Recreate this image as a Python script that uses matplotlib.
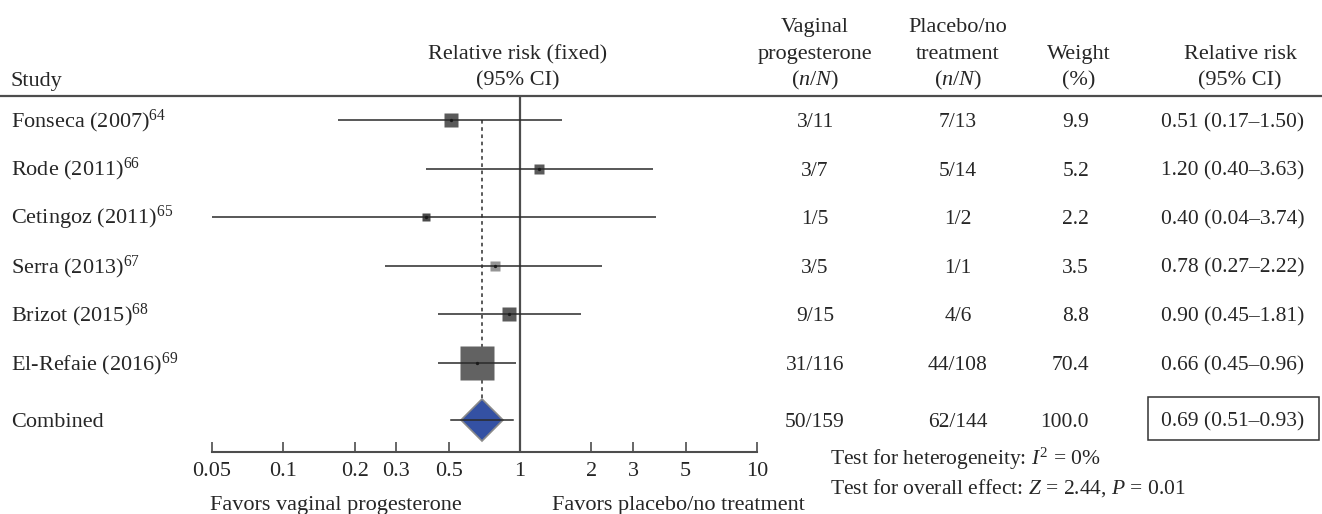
import numpy as np
import matplotlib
matplotlib.use("Agg")
import matplotlib.pyplot as plt
import matplotlib.transforms as mtransforms
from matplotlib.lines import Line2D
from matplotlib.patches import Rectangle

plt.rcParams['font.family'] = ['Liberation Serif', 'DejaVu Serif']
plt.rcParams['mathtext.fontset'] = 'custom'
plt.rcParams['mathtext.rm'] = 'Liberation Serif'
plt.rcParams['mathtext.it'] = 'Liberation Serif:italic'
plt.rcParams['mathtext.bf'] = 'Liberation Serif:bold'

# ---------------- data ----------------
studies = ['Fonseca (2007)', 'Rode (2011)', 'Cetingoz (2011)', 'Serra (2013)',
           'Brizot (2015)', 'El-Refaie (2016)']
refs = ['64', '66', '65', '67', '68', '69']
rr = [0.51, 1.20, 0.40, 0.78, 0.90, 0.66]
rr_lo = [0.17, 0.40, 0.04, 0.27, 0.45, 0.45]
rr_hi = [1.50, 3.63, 3.74, 2.22, 1.81, 0.96]
vag_nN = ['3/11', '3/7', '1/5', '3/5', '9/15', '31/116']
plc_nN = ['7/13', '5/14', '1/2', '1/1', '4/6', '44/108']
weights = [9.9, 5.2, 2.2, 3.5, 8.8, 70.4]

comb_label = 'Combined'
comb_rr, comb_lo, comb_hi = 0.69, 0.51, 0.93
comb_vag, comb_plc, comb_w = '50/159', '62/144', 100.0

xticks = [0.05, 0.1, 0.2, 0.3, 0.5, 1, 2, 3, 5, 10]
xtick_labels = ['0.05', '0.1', '0.2', '0.3', '0.5', '1', '2', '3', '5', '10']

het_text = r'Test for heterogeneity: $I^2$ = 0%'
eff_text = r'Test for overall effect: $Z$ = 2.44, $P$ = 0.01'

# ---------------- styles ----------------
sq_colors = ['#5a5a5a', '#5a5a5a', '#4a4a4a', '#959595', '#5a5a5a', '#626262']
TXT = '#262626'
LINEC = '#4d4d4d'
FS_W = 16     # words
FS_N = 15.5   # numbers
FS_T = 16     # tick labels

W, H = 1322, 514
fig = plt.figure(figsize=(W / 100, H / 100), dpi=100)

def fx(px):
    return px / W

def fy(py):
    return 1 - py / H

# axes: x 0.05..10 maps to px 212..757 ; y px 96..452
ax_left, ax_right, ax_top, ax_bot = 212, 757, 96, 452
ax = fig.add_axes([fx(ax_left), fy(ax_bot), fx(ax_right - ax_left), (ax_bot - ax_top) / H])
row_px = 48.6
first_row_px = 120
ylim_top = (ax_top - first_row_px) / row_px
ylim_bot = (ax_bot - first_row_px) / row_px
ax.set_xscale('log')
ax.set_xlim(0.05, 10)
ax.set_ylim(ylim_bot, ylim_top)

n = len(studies)
ypos = np.arange(n, dtype=float)
comb_y = n + 0.17

# CI lines, squares, dots
for i in range(n):
    ax.plot([rr_lo[i], rr_hi[i]], [ypos[i], ypos[i]], color='#2a2a2a', lw=1.1, zorder=4,
            solid_capstyle='butt')
    side_px = 2.6 + 3.63 * np.sqrt(weights[i])
    ax.plot(rr[i], ypos[i], marker='s', ms=side_px * 0.72, color=sq_colors[i],
            mec='none', zorder=3, linestyle='none')
    ax.plot(rr[i], ypos[i], marker='o', ms=2.4, color='#1a1a1a', mec='none', zorder=5,
            linestyle='none')

# vertical reference lines
ax.axvline(1, color=LINEC, lw=1.6, zorder=2)
diamond_ms = 21.4
half_h = (diamond_ms * 1.414 / 2) / 0.72 / row_px
ax.vlines(comb_rr, ypos[0], comb_y - half_h, color=LINEC, lw=1.3,
          linestyles=(0, (2, 2)), zorder=1)

# combined diamond
ax.plot(comb_rr, comb_y, marker='D', ms=diamond_ms, color='#3451a3', mec='#8a8a8a',
        mew=1.2, zorder=3, linestyle='none')
ax.plot([comb_lo, comb_hi], [comb_y, comb_y], color='#2a2a2a', lw=1.1, zorder=4)

# axis styling
for s in ['top', 'right', 'left']:
    ax.spines[s].set_visible(False)
ax.spines['bottom'].set_color(LINEC)
ax.spines['bottom'].set_linewidth(1.5)
ax.set_yticks([])
ax.xaxis.set_major_locator(matplotlib.ticker.FixedLocator(xticks))
ax.xaxis.set_minor_locator(matplotlib.ticker.NullLocator())
ax.set_xticklabels(xtick_labels)
ax.tick_params(axis='x', direction='in', length=7.5, width=1.2, color=LINEC,
               labelsize=FS_T, labelcolor=TXT, pad=7.5)
ax.patch.set_alpha(0)

# header rule across figure
fig.add_artist(Line2D([0, 1], [fy(96), fy(96)], transform=fig.transFigure,
                      color=LINEC, lw=1.6))

# row text helper: x in figure px, y in data rows, baseline offset
base_tr = mtransforms.blended_transform_factory(fig.transFigure, ax.transData)
row_tr = mtransforms.offset_copy(base_tr, fig=fig, x=0, y=-7, units='dots')

col_vag = 815
col_plc = 958
col_w_right = 1089
col_rr = 1233

def rowtext(x_px, y, s, ha='center', fs=FS_N):
    fig.text(fx(x_px), y, s, transform=row_tr, ha=ha, va='baseline', fontsize=fs, color=TXT)

for i in range(n):
    rowtext(11, ypos[i], f'{studies[i]}$^{{{refs[i]}}}$', ha='left', fs=FS_W)
    rowtext(col_vag, ypos[i], vag_nN[i])
    rowtext(col_plc, ypos[i], plc_nN[i])
    rowtext(col_w_right, ypos[i], f'{weights[i]:.1f}', ha='right')
    rowtext(col_rr, ypos[i], f'{rr[i]:.2f} ({rr_lo[i]:.2f}–{rr_hi[i]:.2f})')

rowtext(11, comb_y, comb_label, ha='left', fs=FS_W)
rowtext(col_vag, comb_y, comb_vag)
rowtext(col_plc, comb_y, comb_plc)
rowtext(col_w_right, comb_y, f'{comb_w:.1f}', ha='right')
rowtext(col_rr, comb_y, f'{comb_rr:.2f} ({comb_lo:.2f}–{comb_hi:.2f})')

# box around combined RR
fig.add_artist(Rectangle((fx(1148), fy(440)), fx(1319 - 1148), (440 - 397) / H,
                         transform=fig.transFigure, fill=False, ec='#333333', lw=1.1))

# headers
def htext(x_px, base_px, s, ha='center', fs=FS_W):
    fig.text(fx(x_px), fy(base_px), s, ha=ha, va='baseline', fontsize=fs, color=TXT)

htext(11, 86, 'Study', ha='left')
htext(518, 59, 'Relative risk (fixed)')
htext(518, 85, '(95% CI)')
htext(col_vag, 32, 'Vaginal')
htext(col_vag, 59, 'progesterone')
htext(col_vag, 85, r'($n$/$N$)')
htext(col_plc, 32, 'Placebo/no')
htext(col_plc, 59, 'treatment')
htext(col_plc, 85, r'($n$/$N$)')
htext(1079, 59, 'Weight')
htext(1079, 85, '(%)')
htext(1240, 59, 'Relative risk')
htext(1240, 85, '(95% CI)')

# test text
htext(830, 465, het_text, ha='left', fs=FS_N)
htext(830, 494, eff_text, ha='left', fs=FS_N)

# favors text
htext(210, 510, 'Favors vaginal progesterone', ha='left')
htext(552, 510, 'Favors placebo/no treatment', ha='left')

fig.savefig('out.png', dpi=100)
